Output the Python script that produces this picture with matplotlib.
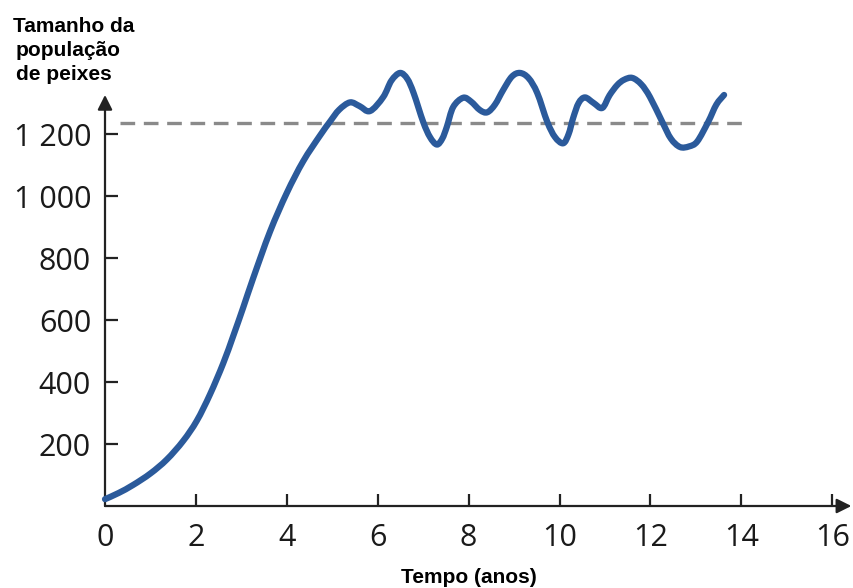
import matplotlib.pyplot as plt
import numpy as np
from matplotlib.path import Path
from matplotlib.patches import PathPatch, FancyArrowPatch

# Population curve (years, fish count)
tempo = [0.0, 0.3, 0.62, 1.0, 1.36, 1.72, 2.02, 2.31, 2.6, 2.82, 3.04, 3.26,
         3.63, 4.0, 4.36, 4.73, 4.95, 5.15, 5.39, 5.6, 5.83, 6.12, 6.3, 6.49,
         6.65, 6.79, 7.0, 7.15, 7.3, 7.42, 7.52, 7.66, 7.88, 8.05, 8.25, 8.41,
         8.58, 8.76, 8.95, 9.13, 9.32, 9.51, 9.73, 9.9, 10.08, 10.2, 10.3,
         10.42, 10.56, 10.75, 10.94, 11.1, 11.27, 11.42, 11.6, 11.8, 11.99,
         12.26, 12.45, 12.65, 12.85, 13.03, 13.27, 13.45, 13.62]
populacao = [22, 42, 68, 105, 150, 210, 275, 360, 460, 548, 640, 735,
             885, 1010, 1112, 1195, 1240, 1278, 1302, 1290, 1274, 1319, 1372, 1397,
             1378, 1332, 1239, 1190, 1166, 1185, 1223, 1287, 1317, 1305, 1277, 1270,
             1295, 1342, 1385, 1397, 1380, 1332, 1239, 1190, 1170, 1200, 1252,
             1300, 1318, 1300, 1284, 1325, 1358, 1375, 1381, 1360, 1319,
             1239, 1185, 1158, 1160, 1176, 1239, 1295, 1326]

capacidade = 1237          # carrying capacity (dashed line)
cap_inicio, cap_fim = 0.33, 14.08

x_ticks = [0, 2, 4, 6, 8, 10, 12, 14, 16]
y_ticks = [200, 400, 600, 800, 1000, 1200]
y_labels = ['200', '400', '600', '800', '1 000', '1 200']


def smooth_path(xs, ys):
    # Bezier path passing through every point (Catmull-Rom handles)
    p = np.column_stack([xs, ys]).astype(float)
    n = len(p)
    verts = [p[0]]
    codes = [Path.MOVETO]
    for i in range(n - 1):
        a = p[max(i - 1, 0)]
        b = p[i]
        c = p[i + 1]
        d = p[min(i + 2, n - 1)]
        verts += [b + (c - a) / 6, c - (d - b) / 6, c]
        codes += [Path.CURVE4] * 3
    return Path(verts, codes)


fig = plt.figure(figsize=(8.54, 5.88), dpi=100)
ax = fig.add_axes([105 / 854, 82 / 588, 750 / 854, 449.5 / 588])
ax.set_xlim(0, 16.5)
ax.set_ylim(0, 1450)
for s in ax.spines.values():
    s.set_visible(False)

axis_col = '#222222'
# axes drawn as arrows
for end in [(16.42, 0), (0, 1326)]:
    ax.add_patch(FancyArrowPatch((0, 0), end, arrowstyle='-|>', color=axis_col,
                                 lw=1.6, mutation_scale=22, shrinkA=0, shrinkB=0,
                                 clip_on=False))

ax.plot([cap_inicio, cap_fim], [capacidade, capacidade], color='#8a8a8a',
        lw=2.4, dashes=(4.4, 2.6))
ax.add_patch(PathPatch(smooth_path(tempo, populacao), facecolor='none',
                       edgecolor='#2b5a9b', lw=4.5, capstyle='round',
                       joinstyle='round', clip_on=False, zorder=3))

ax.set_xticks(x_ticks)
ax.set_yticks(y_ticks)
ax.set_yticklabels(y_labels)
ax.tick_params(direction='in', length=9, width=1.6, color=axis_col,
               labelsize=22, labelcolor='#1a1a1a')
ax.tick_params(axis='y', pad=10)
ax.tick_params(axis='x', pad=12)
ax.xaxis.get_major_ticks()[0].tick1line.set_visible(False)
for lab in ax.get_xticklabels() + ax.get_yticklabels():
    lab.set_family('Open Sans')

titulo = ['Tamanho da', 'população', 'de peixes']
for k, linha in enumerate(titulo):
    fig.text((13 if k == 0 else 16) / 854, 1 - (32 + 24 * k) / 588, linha,
             family='Liberation Sans', weight='bold', fontsize=15,
             va='baseline', ha='left')
ax.text(8, -0.172, 'Tempo (anos)', transform=ax.get_xaxis_transform(),
        family='Liberation Sans', weight='bold', fontsize=15,
        ha='center', va='baseline')

fig.savefig('out.png', dpi=100)
